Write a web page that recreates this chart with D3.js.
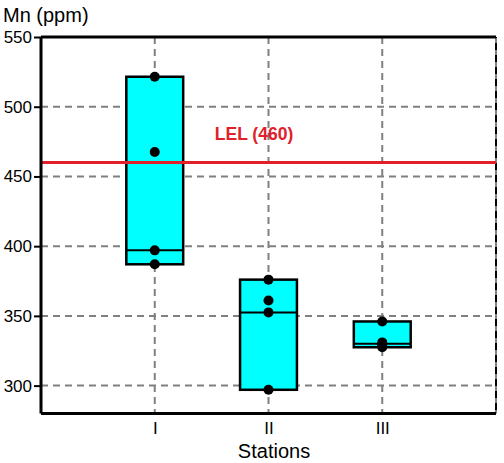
<!DOCTYPE html>
<html>
<head>
<meta charset="utf-8">
<script src="https://cdn.jsdelivr.net/npm/d3@7"></script>
<style>
  body { margin: 0; background: #fff; }
  text { font-family: "Liberation Sans", Arial, sans-serif; }
</style>
</head>
<body>
<div id="chart"></div>
<script>
// data
var stations = ["I", "II", "III"]
var boxLow = [387, 297, 327.5]
var boxHigh = [521.5, 376, 346]
var boxMid = [397, 352.5, 330]
var samples = [
    [521.5, 467.5, 397, 387],
    [376, 361, 352.5, 297],
    [346, 331, 329, 327.5]
]
var yTicks = [300, 350, 400, 450, 500, 550]
var lel = 460

var width = 504
var height = 463
var margin = {top: 37, right: 8, bottom: 49.5, left: 41}

var svg = d3.select("#chart")
    .append("svg")
    .attr("width", width)
    .attr("height", height)

var x = d3.scaleLinear()
    .domain([0, 4])
    .range([margin.left, width - margin.right])

var y = d3.scaleLinear()
    .domain([280, 550])
    .range([height - margin.bottom, margin.top])

var boxes = stations.map((s, i) => ({
    name: s, pos: i + 1, low: boxLow[i], high: boxHigh[i], mid: boxMid[i], pts: samples[i]
}))

// grid
var grid = svg.append("g")
    .attr("stroke", "#808080")
    .attr("stroke-width", 2)
    .attr("stroke-dasharray", "7,5")

grid.selectAll(".h")
    .data(yTicks.filter(d => d < 550))
    .join("line")
    .attr("x1", x(0))
    .attr("x2", x(4))
    .attr("y1", d => y(d))
    .attr("y2", d => y(d))

grid.selectAll(".v")
    .data([1, 2, 3, 4])
    .join("line")
    .attr("x1", d => x(d))
    .attr("x2", d => x(d))
    .attr("y1", y(550))
    .attr("y2", y(280))

// right edge is dashed black over the grey grid
svg.append("line")
    .attr("x1", x(4))
    .attr("x2", x(4))
    .attr("y1", y(550))
    .attr("y2", y(280))
    .attr("stroke", "#000")
    .attr("stroke-width", 2)
    .attr("stroke-dasharray", "7,5")
    .attr("stroke-dashoffset", 6)

// boxes
var g = svg.append("g")
    .selectAll("g")
    .data(boxes)
    .join("g")

g.append("rect")
    .attr("x", d => x(d.pos - 0.25))
    .attr("width", x(0.5) - x(0))
    .attr("y", d => y(d.high))
    .attr("height", d => y(d.low) - y(d.high))
    .attr("fill", "#00ffff")
    .attr("stroke", "#000")
    .attr("stroke-width", 2.5)

g.append("line")
    .attr("x1", d => x(d.pos - 0.25))
    .attr("x2", d => x(d.pos + 0.25))
    .attr("y1", d => y(d.mid))
    .attr("y2", d => y(d.mid))
    .attr("stroke", "#000")
    .attr("stroke-width", 2)

g.selectAll("circle")
    .data(d => d.pts.map(v => ({pos: d.pos, v: v})))
    .join("circle")
    .attr("cx", d => x(d.pos))
    .attr("cy", d => y(d.v))
    .attr("r", 5)
    .attr("fill", "#000")

// LEL line
svg.append("line")
    .attr("x1", x(0))
    .attr("x2", x(4))
    .attr("y1", y(lel))
    .attr("y2", y(lel))
    .attr("stroke", "#e0202a")
    .attr("stroke-width", 3)

svg.append("text")
    .attr("x", 254)
    .attr("y", y(lel) - 23)
    .attr("text-anchor", "middle")
    .attr("fill", "#e0202a")
    .attr("font-weight", "bold")
    .attr("font-size", 17.5)
    .text("LEL (" + lel + ")")

// axes
var yAxis = svg.append("g")
    .attr("transform", "translate(" + margin.left + ",0)")
    .call(d3.axisLeft(y).tickValues(yTicks).tickSize(7).tickPadding(2))
yAxis.select(".domain").attr("stroke-width", 3)
    .attr("d", "M0," + y(550) + "V" + y(280))
yAxis.selectAll(".tick line").attr("stroke-width", 2)
yAxis.selectAll("text").attr("font-size", 17).attr("fill", "#000")
    .attr("font-family", "Liberation Sans, Arial, sans-serif")

var xAxis = svg.append("g")
    .attr("transform", "translate(0," + y(280) + ")")
    .call(d3.axisBottom(x).tickValues([1, 2, 3]).tickFormat(d => stations[d - 1]).tickSize(0).tickPadding(8))
xAxis.select(".domain").attr("stroke-width", 3)
    .attr("d", "M" + x(0) + ",0H" + x(4))
xAxis.selectAll("text").attr("font-size", 17).attr("fill", "#000")
    .attr("font-family", "Liberation Sans, Arial, sans-serif")

// top border
svg.append("line")
    .attr("x1", x(0))
    .attr("x2", x(4))
    .attr("y1", y(550))
    .attr("y2", y(550))
    .attr("stroke", "#000")
    .attr("stroke-width", 3)

svg.append("text")
    .attr("x", 3)
    .attr("y", 22)
    .attr("font-size", 20)
    .text("Mn (ppm)")

svg.append("text")
    .attr("x", 274)
    .attr("y", 458)
    .attr("text-anchor", "middle")
    .attr("font-size", 20)
    .text("Stations")
</script>
</body>
</html>
